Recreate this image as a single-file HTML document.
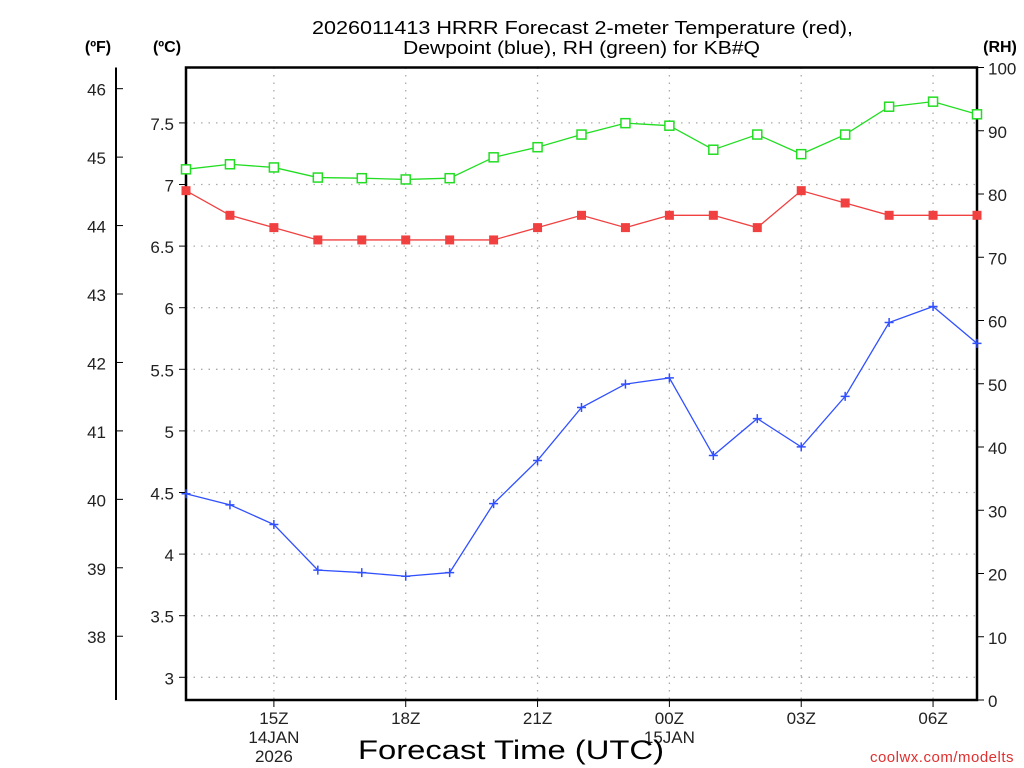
<!DOCTYPE html>
<html><head><meta charset="utf-8"><style>
html,body{margin:0;padding:0;background:#fff;width:1024px;height:768px;overflow:hidden}
svg{display:block;font-family:"Liberation Sans",sans-serif}
</style></head><body>
<svg id="chart" width="1024" height="768" viewBox="0 0 1024 768" xmlns="http://www.w3.org/2000/svg">
<g id="grid"></g>
<g id="axes"></g>
<g id="series"></g>
<text x="312" y="34" font-size="18" textLength="541" lengthAdjust="spacingAndGlyphs">2026011413 HRRR Forecast 2-meter Temperature (red),</text>
<text x="403" y="54" font-size="18" textLength="357" lengthAdjust="spacingAndGlyphs">Dewpoint (blue), RH (green) for KB#Q</text>
<text x="98" y="52" font-size="16" font-weight="bold" text-anchor="middle">(ºF)</text>
<text x="167" y="52" font-size="16" font-weight="bold" text-anchor="middle">(ºC)</text>
<text x="1000" y="52" font-size="16" font-weight="bold" text-anchor="middle">(RH)</text>
<text x="358" y="759" font-size="27" textLength="306" lengthAdjust="spacingAndGlyphs">Forecast Time (UTC)</text>
<text x="1014" y="762" font-size="15" fill="#e03030" text-anchor="end" letter-spacing="0.5">coolwx.com/modelts</text>
</svg>
<script>
const hours = [0,1,2,3,4,5,6,7,8,9,10,11,12,13,14,15,16,17,18];
const tempC = [6.95,6.75,6.65,6.55,6.55,6.55,6.55,6.55,6.65,6.75,6.65,6.75,6.75,6.65,6.95,6.85,6.75,6.75,6.75];
const dewC = [4.49,4.40,4.24,3.87,3.85,3.82,3.85,4.41,4.76,5.19,5.38,5.43,4.80,5.10,4.87,5.28,5.88,6.01,5.71];
const rh = [83.9,84.7,84.2,82.6,82.5,82.3,82.5,85.8,87.4,89.4,91.2,90.8,87.0,89.4,86.3,89.4,93.8,94.6,92.6];
const cTicks = [3,3.5,4,4.5,5,5.5,6,6.5,7,7.5];
const fTicks = [38,39,40,41,42,43,44,45,46];
const rhTicks = [0,10,20,30,40,50,60,70,80,90,100];
const xTickHours = [2,5,8,11,14,17];
const xTickLabels = [["15Z","14JAN","2026"],["18Z"],["21Z"],["00Z","15JAN"],["03Z"],["06Z"]];

const L=186,R=977,T=67.5,B=700;
const NS="http://www.w3.org/2000/svg";
const xS=h=>L+h*(R-L)/18;
const yC=c=>677.3-(c-3)*123.2;
const yF=f=>yC((f-32)*5/9);
const yR=r=>B-r*(B-T)/100;
function mk(tag,attrs,parent){const e=document.createElementNS(NS,tag);for(const k in attrs)e.setAttribute(k,attrs[k]);parent.appendChild(e);return e;}
const grid=document.getElementById('grid'),axes=document.getElementById('axes'),ser=document.getElementById('series');

cTicks.forEach(c=>{const y=yC(c);
 const g=mk('line',{x1:L,x2:R,y1:y,y2:y,stroke:'#aaa','stroke-width':1.3,'stroke-dasharray':'1.5 6'},grid);
 
 
 mk('line',{x1:L-7,x2:L,y1:y,y2:y,stroke:'#000','stroke-width':1},axes);
 const t=mk('text',{x:L-12,y:y+7,'font-size':17,'text-anchor':'end',fill:'#222'},axes);t.textContent=c;
 
 
});
xTickHours.forEach((h,i)=>{const x=xS(h);
 const g=mk('line',{x1:x,x2:x,y1:T,y2:B,stroke:'#aaa','stroke-width':1.3,'stroke-dasharray':'1.5 6'},grid);
 
 
 mk('line',{x1:x,x2:x,y1:B,y2:B+7,stroke:'#000','stroke-width':1},axes);
 xTickLabels[i].forEach((s,j)=>{const t=mk('text',{x:x,y:B+24+j*19,'font-size':17,'text-anchor':'middle',fill:'#222'},axes);t.textContent=s;
  
  });
});
fTicks.forEach(f=>{const y=yF(f);
 mk('line',{x1:116,x2:123,y1:y,y2:y,stroke:'#000','stroke-width':1},axes);
 const t=mk('text',{x:106,y:y+7,'font-size':17,'text-anchor':'end',fill:'#222'},axes);t.textContent=f;
 
 
});
rhTicks.forEach(r=>{const y=yR(r);
 mk('line',{x1:R,x2:R+7,y1:y,y2:y,stroke:'#000','stroke-width':1},axes);
 const t=mk('text',{x:R+11,y:y+7,'font-size':17,fill:'#222'},axes);t.textContent=r;
 
 
});
const box=mk('rect',{x:L,y:T,width:R-L,height:B-T,fill:'none',stroke:'#000','stroke-width':2.5},axes);


const fax=mk('line',{x1:116,x2:116,y1:T,y2:B,stroke:'#000','stroke-width':2},axes);



function line(vals,yf,color,name){
 const pts=hours.map((h,i)=>xS(h)+','+yf(vals[i])).join(' ');
 const p=mk('polyline',{points:pts,fill:'none',stroke:color,'stroke-width':1.3},ser);
 
 
}
line(rh,yR,'#22dd22','rh-line');
line(tempC,yC,'#f04040','temperature-line');
line(dewC,yC,'#3050ff','dewpoint-line');
hours.forEach((h,i)=>{const x=xS(h);
 let y=yR(rh[i]);
 const a=mk('rect',{x:x-4.5,y:y-4.5,width:9,height:9,fill:'#fff',stroke:'#22dd22','stroke-width':1.5},ser);
 
 
 y=yC(tempC[i]);
 const b=mk('rect',{x:x-4.5,y:y-4.5,width:9,height:9,fill:'#f04040'},ser);
 
 
 y=yC(dewC[i]);
 const c=mk('path',{d:`M${x-4.5},${y}H${x+4.5}M${x},${y-4.5}V${y+4.5}`,stroke:'#3050ff','stroke-width':1.5},ser);
 
 
});
</script>
</body></html>
